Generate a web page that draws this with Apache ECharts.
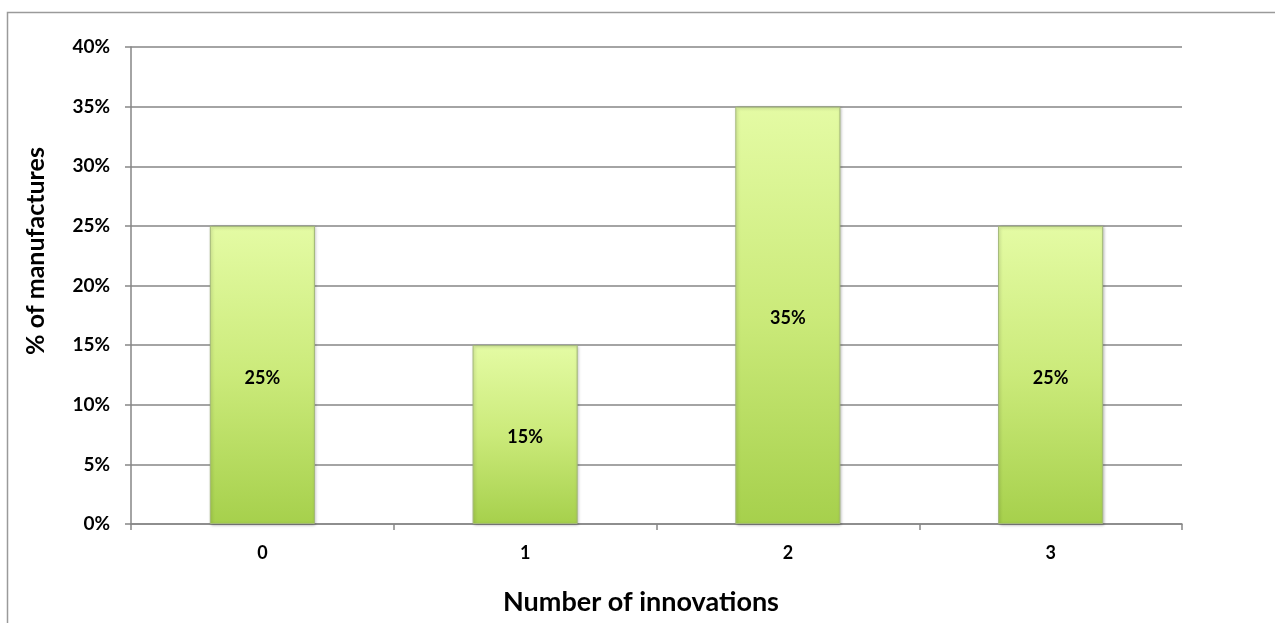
<!DOCTYPE html>
<html><head><meta charset="utf-8">
<script src="https://cdn.jsdelivr.net/npm/echarts@6/dist/echarts.min.js"></script>
<style>html,body{margin:0;padding:0;background:#fff}#c{width:1275px;height:623px}</style>
</head><body><div id="c"></div>
<script>
const categories = ['0', '1', '2', '3'];
const values = [25, 15, 35, 25];
const yTicks = [0, 5, 10, 15, 20, 25, 30, 35, 40];
const xTitle = 'Number of innovations';
const yTitle = '% of manufactures';

const chart = echarts.init(document.getElementById('c'), null, {renderer: 'canvas'});
const font = 'Lato, "Open Sans", sans-serif';
chart.setOption({
  animation: false,
  graphic: [{
    type: 'rect', left: 5, top: 10,
    shape: {width: 1290, height: 640},
    style: {fill: 'none', stroke: '#9a9a9a', lineWidth: 1.5},
    z: -1
  }, {
    type: 'text', x: 36, y: 251, rotation: Math.PI / 2,
    style: {text: yTitle, fill: '#000', font: 'bold 25px ' + font, align: 'center', verticalAlign: 'middle'}
  }, {
    type: 'text', x: 641, y: 602,
    style: {text: xTitle, fill: '#000', font: 'bold 27px ' + font, align: 'center', verticalAlign: 'middle'}
  }],
  grid: {left: 131, right: 93, top: 47, bottom: 99},
  xAxis: {
    type: 'category', data: categories,
    axisLine: {lineStyle: {color: '#868686', width: 1.5}},
    axisTick: {show: true, alignWithLabel: false, length: 6, lineStyle: {color: '#868686', width: 1.5}},
    axisLabel: {fontFamily: font, fontWeight: 'bold', fontSize: 18, color: '#000', margin: 20}
  },
  yAxis: {
    type: 'value', min: 0, max: 40, interval: 5,
    axisLine: {show: true, lineStyle: {color: '#868686', width: 1.5}},
    axisTick: {show: true, length: 6, lineStyle: {color: '#868686', width: 1.5}},
    splitLine: {lineStyle: {color: '#868686', width: 1.5}},
    axisLabel: {fontFamily: font, fontWeight: 'bold', fontSize: 19, color: '#000', margin: 21,
      formatter: v => yTicks.includes(v) ? v + '%' : ''}
  },
  series: [{
    type: 'bar', data: values, barCategoryGap: '60%',
    itemStyle: {
      color: new echarts.graphic.LinearGradient(0, 0, 0, 1, [
        {offset: 0, color: '#e4fba4'},
        {offset: 0.5, color: '#cbea7a'},
        {offset: 1, color: '#a6d04c'}
      ]),
      borderColor: '#a3b878', borderWidth: 1,
      shadowColor: 'rgba(0,0,0,0.25)', shadowBlur: 3, shadowOffsetX: 1, shadowOffsetY: 1
    },
    label: {show: true, position: 'inside', offset: [0, 3], formatter: p => p.value + '%',
      fontFamily: font, fontWeight: 'bold', fontSize: 18, color: '#000'}
  }]
});
</script></body></html>
